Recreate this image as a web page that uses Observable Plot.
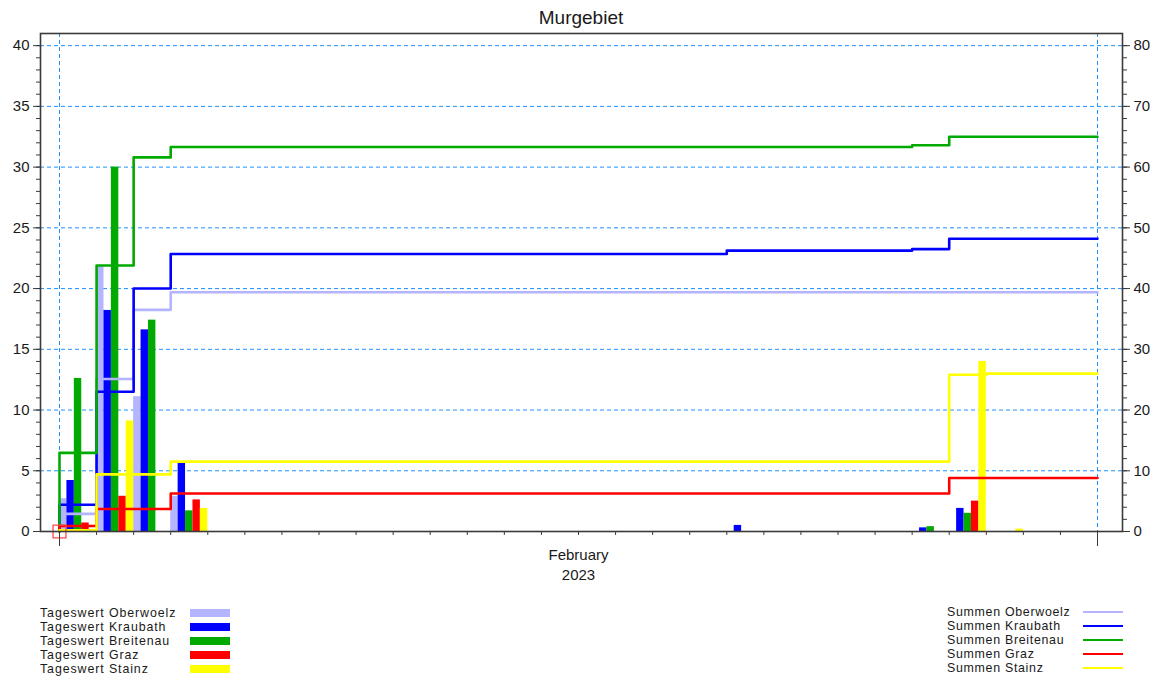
<!DOCTYPE html>
<html><head><meta charset="utf-8">
<script src="https://cdn.jsdelivr.net/npm/d3@7"></script>
<script src="https://cdn.jsdelivr.net/npm/@observablehq/plot@0.6"></script>
<style>
body{margin:0;background:#fff;font-family:"Liberation Sans",Arial,sans-serif;}
#wrap{position:relative;width:1164px;height:679px;overflow:hidden;}
#chart{position:absolute;left:0;top:0;}
#title{position:absolute;left:40px;width:1082px;top:8px;line-height:20px;text-align:center;font-size:19px;color:#1a1a1a;}
.legend{position:absolute;font-size:12.4px;color:#1a1a1a;}
.row{height:14px;line-height:14px;display:flex;align-items:center;white-space:nowrap;}
.lbl{display:inline-block;}
.sw{display:inline-block;width:40px;height:8px;}
.ln{display:inline-block;width:40px;height:2.5px;}
</style></head><body>
<div id="wrap"><div id="chart"></div><div id="title">Murgebiet</div>
<div class="legend" id="legL" style="left:40px;top:606px;letter-spacing:0.9px"></div>
<div class="legend" id="legR" style="left:947px;top:605px;letter-spacing:0.7px"></div></div>
<script>
const stations = ["Oberwoelz","Kraubath","Breitenau","Graz","Stainz"];
const colors = ["#b4b4ff","#0000ff","#00aa00","#ff0000","#ffff00"];
const monthLabel = "February\n2023";
// daily values (left axis), Feb 1 .. Feb 28
const tagesOberwoelz = [2.7,21.8,11.1,2.9,0,0,0,0,0,0,0,0,0,0,0,0,0,0,0,0,0,0,0,0,0,0,0,0];
const tagesKraubath  = [4.2,18.2,16.6,5.6,0,0,0,0,0,0,0,0,0,0,0,0,0,0,0.5,0,0,0,0,0.3,1.9,0,0,0];
const tagesBreitenau = [12.6,30.0,17.4,1.7,0,0,0,0,0,0,0,0,0,0,0,0,0,0,0,0,0,0,0,0.4,1.5,0,0,0];
const tagesGraz      = [0.7,2.9,0,2.6,0,0,0,0,0,0,0,0,0,0,0,0,0,0,0,0,0,0,0,0,2.5,0,0,0];
const tagesStainz    = [0.1,9.1,0,1.9,0,0,0,0,0,0,0,0,0,0,0,0,0,0,0,0,0,0,0,0,14.0,0.2,0,0];
// cumulative sums (right axis), Feb 1 .. Feb 28
const summenOberwoelz = [2.9,25.1,36.5,39.4,39.4,39.4,39.4,39.4,39.4,39.4,39.4,39.4,39.4,39.4,39.4,39.4,39.4,39.4,39.4,39.4,39.4,39.4,39.4,39.4,39.4,39.4,39.4,39.4];
const summenKraubath  = [4.4,23.0,40.0,45.7,45.7,45.7,45.7,45.7,45.7,45.7,45.7,45.7,45.7,45.7,45.7,45.7,45.7,45.7,46.25,46.25,46.25,46.25,46.25,46.5,48.2,48.2,48.2,48.2];
const summenBreitenau = [12.95,43.8,61.6,63.3,63.3,63.3,63.3,63.3,63.3,63.3,63.3,63.3,63.3,63.3,63.3,63.3,63.3,63.3,63.3,63.3,63.3,63.3,63.3,63.6,65.0,65.0,65.0,65.0];
const summenGraz      = [0.9,3.7,3.7,6.25,6.25,6.25,6.25,6.25,6.25,6.25,6.25,6.25,6.25,6.25,6.25,6.25,6.25,6.25,6.25,6.25,6.25,6.25,6.25,6.25,8.8,8.8,8.8,8.8];
const summenStainz    = [0.2,9.4,9.4,11.5,11.5,11.5,11.5,11.5,11.5,11.5,11.5,11.5,11.5,11.5,11.5,11.5,11.5,11.5,11.5,11.5,11.5,11.5,11.5,11.5,25.8,26.0,26.0,26.0];
const leftTicks = [0,5,10,15,20,25,30,35,40];

const tages = [tagesOberwoelz,tagesKraubath,tagesBreitenau,tagesGraz,tagesStainz];
const summen = [summenOberwoelz,summenKraubath,summenBreitenau,summenGraz,summenStainz];
const DAY = 864e5;
const t0 = Date.UTC(2023,1,1);
const tEnd = new Date(t0 + 28*DAY);
const bars = [];
tages.forEach((arr,k)=>arr.forEach((v,i)=>{
  if (v>0) bars.push({station:stations[k], x1:new Date(t0+i*DAY+k*DAY/5), x2:new Date(t0+i*DAY+(k+1)*DAY/5), v});
}));
const lines = [];
summen.forEach((arr,k)=>{
  const s = stations[k];
  lines.push({station:s, date:new Date(t0), v:0});
  arr.forEach((v,i)=>lines.push({station:s, date:new Date(t0+i*DAY), v}));
  lines.push({station:s, date:tEnd, v:arr[arr.length-1]});
});
const grid = "#1e90ff";
const ax = "#3a3a3a";
const plot = Plot.plot({
  width:1164, height:590,
  marginLeft:40, marginRight:42, marginTop:33, marginBottom:59,
  insetLeft:19, insetRight:25,
  x:{type:"utc", domain:[new Date(t0), tEnd], axis:null},
  y:{domain:[0,41], axis:null},
  color:{domain:stations, range:colors},
  style:{fontFamily:'"Liberation Sans", Arial, sans-serif', fontSize:"15px", background:"white", color:"#1a1a1a", overflow:"visible"},
  marks:[
    Plot.ruleY(leftTicks.filter(d=>d>0), {stroke:grid, strokeDasharray:"4,3", strokeWidth:1}),
    Plot.ruleX([new Date(t0), tEnd], {stroke:grid, strokeDasharray:"4,3", strokeWidth:1}),
    Plot.rectY(bars, {x1:"x1", x2:"x2", y:"v", fill:"station"}),
    Plot.line(lines, {x:"date", y:d=>d.v/2, z:"station", stroke:"station", curve:"step-after", strokeWidth:2.6}),
    Plot.dot([{date:new Date(t0), v:0}], {x:"date", y:"v", symbol:"square", r:7.3, stroke:"#ff4a4a", strokeWidth:1.3, fill:"none"}),
    Plot.frame({stroke:ax, strokeWidth:1.6}),
    Plot.axisY(leftTicks, {anchor:"left", tickSize:7, tickPadding:4, stroke:ax, label:null, fontSize:15}),
    Plot.axisY(d3.range(0,41,1), {anchor:"left", tickSize:4, tickFormat:()=>"", stroke:ax, label:null}),
    Plot.axisY(leftTicks, {anchor:"right", tickSize:7, tickPadding:4, tickFormat:d=>String(d*2), stroke:ax, label:null, fontSize:15}),
    Plot.axisY(d3.range(0,41,1), {anchor:"right", tickSize:4, tickFormat:()=>"", stroke:ax, label:null}),
    Plot.axisX(d3.utcDay.range(new Date(t0), new Date(+tEnd+1)), {tickSize:4, tickFormat:()=>"", stroke:ax, label:null}),
    Plot.axisX([new Date(t0), tEnd], {tickSize:15, tickFormat:()=>"", stroke:ax, label:null}),
    Plot.text([new Date(t0+14*DAY)], {x:d=>d, frameAnchor:"bottom", dy:14, lineAnchor:"top", text:()=>monthLabel, fontSize:15, lineHeight:1.33, fill:"#1a1a1a"})
  ]
});
document.getElementById("chart").appendChild(plot);

const legL = document.getElementById("legL");
const legR = document.getElementById("legR");
stations.forEach((s,k)=>{
  legL.insertAdjacentHTML("beforeend", `<div class="row"><span class="lbl" style="width:150px">Tageswert ${s}</span><span class="sw" style="background:${colors[k]}"></span></div>`);
  legR.insertAdjacentHTML("beforeend", `<div class="row"><span class="lbl" style="width:136px">Summen ${s}</span><span class="ln" style="background:${colors[k]}"></span></div>`);
});
</script>
</body></html>
